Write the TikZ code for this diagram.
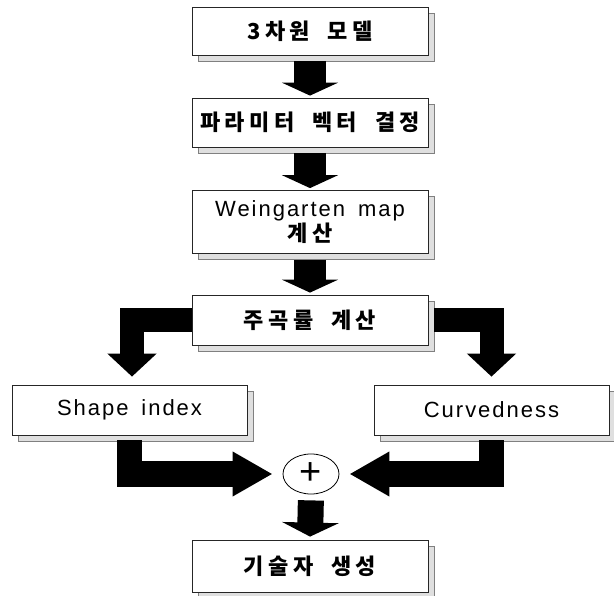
\documentclass[tikz,border=0pt]{standalone}
\usepackage{fontspec}
\setmainfont{Liberation Sans}[LetterSpace=9, WordSpace=1.6]
\newfontfamily\plainsans{Liberation Sans}
\newfontfamily\kr{Noto Sans CJK KR}[LetterSpace=20, WordSpace=1.9]
\usetikzlibrary{arrows.meta,shadows,shapes.geometric}
\begin{document}
\begin{tikzpicture}[x=1pt,y=-1pt,
  stepbox/.style={rectangle, draw=black!85, line width=0.8pt, fill=white,
    minimum width=236pt, inner sep=0pt,
    copy shadow={shadow xshift=6pt, shadow yshift=-6pt, fill=gray!25,
      draw=black!50, line width=0.5pt}},
  krtext/.style={font=\kr\bfseries\fontsize{22}{25}\selectfont},
  latin/.style={font=\fontsize{22}{25}\selectfont},
  mainarrow/.style={line width=32pt, -{Triangle[width=56pt,length=13pt]}},
  sidearrow/.style={line width=24pt, -{Triangle[width=48pt,length=23pt]}},
  joinarrow/.style={line width=25pt, -{Triangle[width=42pt,length=40pt]}},
  outarrow/.style={line width=26pt, -{Triangle[width=56pt,length=14pt]}}]
\useasboundingbox (0,0) rectangle (614,596);

% processing steps
\node[stepbox, krtext, minimum height=48pt] (b1) at (310,31) {3차원 모델};
\node[stepbox, krtext, minimum height=49pt] (b2) at (310,122.5) {파라미터 벡터 결정};
\node[stepbox, latin, minimum height=63pt, align=center] (b3) at (310,222)
  {Weingarten map\\{\kr\bfseries\fontsize{22}{25}\selectfont 계산}};
\node[stepbox, krtext, minimum height=50pt] (b4) at (310,320) {주곡률 계산};
\node[stepbox, latin, minimum width=235pt, minimum height=50pt] (sl) at (129.5,410) {Shape index};
\node[stepbox, latin, minimum width=235pt, minimum height=50pt] (sr) at (491.5,410) {Curvedness};
\node[ellipse, draw=black, line width=0.8pt, minimum width=56pt, minimum height=40pt,
  inner sep=0pt, font=\plainsans\fontsize{38}{38}\selectfont] (plus) at (311,474) {+};
\node[stepbox, krtext, minimum height=52pt] (b5) at (310,566) {기술자 생성};

% block arrows
\draw[mainarrow, shorten >=2pt] ([yshift=-6pt]b1.south) -- (b2.north);
\draw[mainarrow, shorten >=2pt] ([yshift=-6pt]b2.south) -- (b3.north);
\draw[mainarrow, shorten >=2pt] ([yshift=-6pt]b3.south) -- (b4.north);
\draw[sidearrow, shorten >=8pt] (b4.west) -| ([xshift=2.5pt]sl.north);
\draw[sidearrow, shorten >=8pt] ([xshift=6pt]b4.east) -| (sr.north);
\draw[joinarrow, shorten >=10pt] ([yshift=-5pt]sl.south) |- (plus.west);
\draw[joinarrow, shorten >=10pt] ([yshift=-5pt]sr.south) |- (plus.east);
\draw[outarrow, shorten <=6pt, shorten >=3pt] (plus.south) -- (b5.north);
\end{tikzpicture}
\end{document}
